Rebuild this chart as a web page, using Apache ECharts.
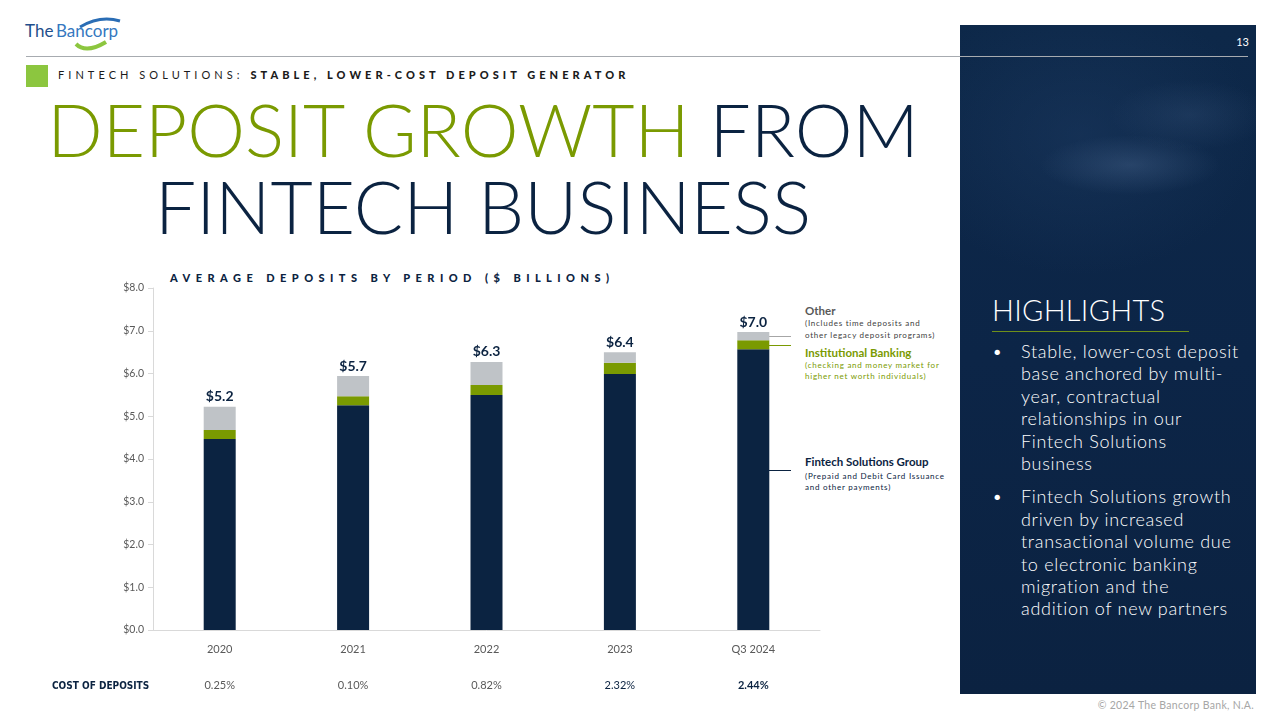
<!DOCTYPE html>
<html>
<head>
<meta charset="utf-8">
<script src="https://cdn.jsdelivr.net/npm/echarts@6/dist/echarts.min.js"></script>
<style>
  html, body { margin:0; padding:0; width:1280px; height:720px; background:#fff; overflow:hidden; font-family:'Lato','Open Sans',sans-serif; }
  #chart { position:absolute; left:0; top:0; width:1280px; height:720px; z-index:5; }
  .abs { position:absolute; white-space:nowrap; }
  #panel { left:960px; top:25px; width:296px; height:669px;
    background:
      radial-gradient(ellipse 90px 30px at 170px 140px, rgba(80,110,150,0.35), rgba(80,110,150,0) 100%),
      radial-gradient(ellipse 80px 35px at 230px 90px, rgba(70,100,140,0.22), rgba(70,100,140,0) 100%),
      radial-gradient(ellipse 180px 140px at 120px 110px, rgba(30,60,100,0.45), rgba(30,60,100,0) 100%),
      linear-gradient(180deg, #0d2849 0%, #0c2547 50%, #0b2241 100%); }
  #hline { left:26px; top:56px; width:1222px; height:1px; background:#a7abb0; z-index:2; }
  #pg { left:1225px; top:35px; width:24px; text-align:right; color:#fff; font-size:11px; z-index:3; }
  #sq { left:26px; top:65px; width:22px; height:22px; background:#8cc63f; }
  #sub { left:58px; top:68px; font-size:11px; letter-spacing:4.05px; color:#1b1b1b; }
  #sub b { font-weight:900; }
  #title { left:20px; top:91px; width:926px; text-align:center; font-weight:300; font-size:73px; line-height:77px; color:#0b2341; white-space:normal; }
  #title .g { color:#7a9a01; }
  #hl { left:992px; top:292px; color:#fff; font-size:29px; font-weight:300; letter-spacing:0.3px; z-index:3; }
  #hlline { left:992px; top:331px; width:197px; height:1px; background:#6f8f1a; z-index:3; }
  #bul { left:992px; top:340px; width:270px; color:#fff; font-size:18px; font-weight:300; line-height:22.4px; letter-spacing:0.7px; z-index:3; }
  #bul .it { position:relative; padding-left:29px; margin-bottom:11px; }
  #bul .it:before { content:'•'; position:absolute; left:0; top:0; }
  #foot { right:26px; top:699px; font-size:10.5px; letter-spacing:0.3px; color:#a6a6a6; }
  #logo { left:24px; top:16px; }
  #ctitle { left:170px; top:271px; font-size:11px; font-weight:900; letter-spacing:5.45px; color:#0b2341; }
  .lg { left:805px; font-size:11.5px; font-weight:bold; line-height:14px; }
  .sm { left:805px; font-size:8px; font-weight:400; line-height:11px; letter-spacing:0.75px; }
</style>
</head>
<body>
<div id="panel" class="abs"></div>
<div id="hline" class="abs"></div>
<div id="pg" class="abs">13</div>
<div id="logo" class="abs">
  <svg width="104" height="36" viewBox="0 0 104 36">
    <path d="M56 11 Q76 -1 96 5" stroke="#2a6db5" stroke-width="3" fill="none"/>
    <path d="M52 28 Q62 38 82 26" stroke="#8cc63f" stroke-width="4" fill="none"/>
    <text x="1" y="21" font-family="Lato, sans-serif" font-size="17" fill="#1f4e8c">The</text>
    <text x="32" y="21" font-family="Lato, sans-serif" font-size="17" fill="#3578c0">Bancorp</text>
  </svg>
</div>
<div id="sq" class="abs"></div>
<div id="sub" class="abs">FINTECH SOLUTIONS: <b>STABLE, LOWER-COST DEPOSIT GENERATOR</b></div>
<div id="title" class="abs"><span class="g">DEPOSIT GROWTH</span> FROM<br>FINTECH BUSINESS</div>
<div id="hl" class="abs">HIGHLIGHTS</div>
<div id="hlline" class="abs"></div>
<div id="bul" class="abs">
  <div class="it">Stable, lower-cost deposit<br>base anchored by multi-<br>year, contractual<br>relationships in our<br>Fintech Solutions<br>business</div>
  <div class="it">Fintech Solutions growth<br>driven by increased<br>transactional volume due<br>to electronic banking<br>migration and the<br>addition of new partners</div>
</div>
<div id="foot" class="abs">© 2024 The Bancorp Bank, N.A.</div>
<div id="ctitle" class="abs">AVERAGE DEPOSITS BY PERIOD ($ BILLIONS)</div>
<div class="abs lg" style="top:304px;color:#595959">Other</div>
<div class="abs sm" style="top:318px;color:#404040">(Includes time deposits and</div>
<div class="abs sm" style="top:330px;color:#404040">other legacy deposit programs)</div>
<div class="abs lg" style="top:346px;color:#7a9a01">Institutional Banking</div>
<div class="abs sm" style="top:360px;color:#7a9a01">(checking and money market for</div>
<div class="abs sm" style="top:371px;color:#7a9a01">higher net worth individuals)</div>
<div class="abs lg" style="top:455px;color:#0b2341">Fintech Solutions Group</div>
<div class="abs sm" style="top:471px;color:#0b2341">(Prepaid and Debit Card Issuance</div>
<div class="abs sm" style="top:482px;color:#0b2341">and other payments)</div>
<div id="chart"></div>
<script>
// ---- data ----
const categories = ['2020', '2021', '2022', '2023', 'Q3 2024'];
const fintechSolutions = [4.47, 5.26, 5.50, 5.99, 6.57];
const institutionalBanking = [0.21, 0.21, 0.23, 0.26, 0.21];
const otherDeposits = [0.54, 0.47, 0.54, 0.25, 0.19];
const totalLabels = ['$5.2', '$5.7', '$6.3', '$6.4', '$7.0'];
const costOfDeposits = ['0.25%', '0.10%', '0.82%', '2.32%', '2.44%'];
const yTicks = [0, 1, 2, 3, 4, 5, 6, 7, 8];

const NAVY = '#0b2341', GREEN = '#7a9a01', GRAY = '#bfc3c7', TXT = '#595959';
const FONT = 'Lato';

const chart = echarts.init(document.getElementById('chart'), null, { renderer: 'canvas' });

const option = {
  backgroundColor: 'transparent',
  animation: false,
  grid: { left: 153, right: 460, top: 288, bottom: 90, containLabel: false },
  xAxis: [
    {
      type: 'category', data: categories,
      axisLine: { show: true, lineStyle: { color: '#d9d9d9', width: 1 } },
      axisTick: { show: false },
      axisLabel: { color: TXT, fontSize: 11, fontFamily: FONT, margin: 14 },
      splitLine: { show: false }
    },
    {
      type: 'category', data: categories, position: 'bottom', offset: 50,
      axisLine: { show: false }, axisTick: { show: false }, splitLine: { show: false },
      axisLabel: {
        fontFamily: FONT, fontSize: 11, margin: 0,
        formatter: function (v, i) {
          const s = i < 3 ? 'g' : (i === 3 ? 'n' : 'b');
          return '{' + s + '|' + costOfDeposits[i] + '}';
        },
        rich: {
          g: { color: TXT, fontSize: 11, fontFamily: FONT },
          n: { color: NAVY, fontSize: 11, fontFamily: FONT },
          b: { color: NAVY, fontSize: 11, fontFamily: FONT, fontWeight: 'bold' }
        }
      }
    }
  ],
  yAxis: {
    type: 'value', min: yTicks[0], max: yTicks[yTicks.length - 1], interval: 1,
    axisLine: { show: true, lineStyle: { color: '#d9d9d9' } },
    axisTick: { show: true, length: 5, lineStyle: { color: '#d9d9d9' } },
    splitLine: { show: false },
    axisLabel: { color: TXT, fontSize: 10.5, fontFamily: FONT, margin: 9,
      formatter: v => '$' + v.toFixed(1) }
  },
  series: [
    { name: 'Fintech Solutions Group', type: 'bar', stack: 'total', data: fintechSolutions,
      barWidth: 32, itemStyle: { color: NAVY } },
    { name: 'Institutional Banking', type: 'bar', stack: 'total', data: institutionalBanking,
      barWidth: 32, itemStyle: { color: GREEN } },
    { name: 'Other', type: 'bar', stack: 'total', data: otherDeposits,
      barWidth: 32, itemStyle: { color: GRAY },
      label: { show: true, position: 'top', distance: 3, color: NAVY, fontSize: 14,
        fontWeight: 'bold', fontFamily: FONT,
        formatter: p => totalLabels[p.dataIndex] } }
  ]
};
chart.setOption(option);

// connector lines tied to the last bar
const li = categories.length - 1;
const xc = chart.convertToPixel({ xAxisIndex: 0 }, categories[li]);
const xr = Math.round(xc + 16);
const yOther = Math.round(chart.convertToPixel({ yAxisIndex: 0 }, fintechSolutions[li] + institutionalBanking[li] + otherDeposits[li] / 2)) + 0.5;
const yInst = Math.round(chart.convertToPixel({ yAxisIndex: 0 }, fintechSolutions[li] + institutionalBanking[li] / 2)) + 0.5;

chart.setOption({
  graphic: [
    { type: 'text', x: 52, y: 686, style: { text: 'COST OF DEPOSITS', fill: NAVY, font: 'bold 10px "DejaVu Sans Condensed", "DejaVu Sans"', textVerticalAlign: 'middle' } },
    { type: 'line', shape: { x1: xr, y1: yOther, x2: xr + 22, y2: yOther }, style: { stroke: '#a6a6a6', lineWidth: 1 } },
    { type: 'line', shape: { x1: xr, y1: yInst, x2: xr + 22, y2: yInst }, style: { stroke: GREEN, lineWidth: 1 } },
    { type: 'line', shape: { x1: xr, y1: 470.5, x2: xr + 22, y2: 470.5 }, style: { stroke: NAVY, lineWidth: 1 } }
  ]
});
</script>
</body>
</html>
